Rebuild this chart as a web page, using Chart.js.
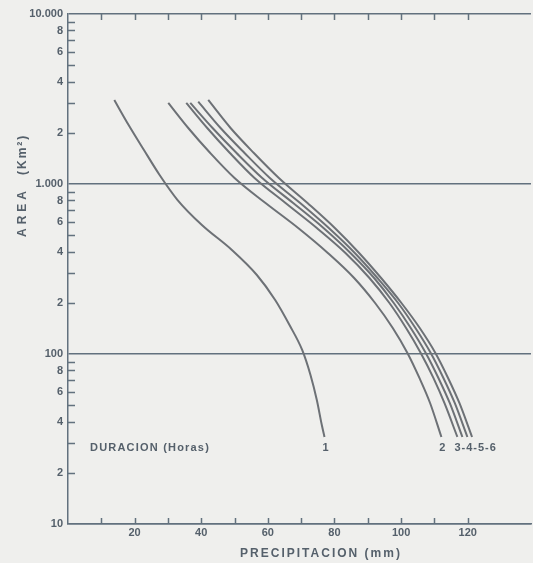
<!DOCTYPE html>
<html><head><meta charset="utf-8">
<script src="https://cdn.jsdelivr.net/npm/chart.js@4.4.0/dist/chart.umd.min.js"></script>
<style>
html,body{margin:0;padding:0;background:#efefed;overflow:hidden}
#wrap{width:533px;height:563px;position:relative}
canvas{display:block}
</style></head>
<body><div id="wrap"><canvas id="c" width="533" height="563"></canvas></div>
<script>
// ---- data ----
const durationLabels = ['1', '2', '3', '4', '5', '6'];

const precip1 = [13.9, 18.2, 22.8, 27.5, 32.9, 40.2, 49.2, 56.7, 62.2, 66.5, 70.3, 72.8, 74.7, 76.2, 77.0];
const area1   = [3120, 2224, 1585, 1130, 805, 574, 409, 291.5, 207.7, 148, 105.6, 75.2, 53.6, 38.2, 32.5];

const areaBundle = [3000, 2135, 1522, 1085, 773, 551, 393, 280, 199.5, 142.2, 101.4, 72.3, 51.5, 32.5];
const area5      = [3050, 2135, 1522, 1085, 773, 551, 393, 280, 199.5, 142.2, 101.4, 72.3, 51.5, 32.5];
const area6      = [3120, 2135, 1522, 1085, 773, 551, 393, 280, 199.5, 142.2, 101.4, 72.3, 51.5, 32.5];
const precip2 = [30.1, 36.1, 42.7, 50.0, 59.3, 69.1, 78.0, 85.9, 92.2, 97.5, 101.9, 105.5, 108.7, 112.1];
const precip3 = [35.5, 41.8, 48.6, 56.0, 65.3, 74.7, 83.3, 90.5, 96.5, 101.5, 105.9, 109.7, 113.0, 116.9];
const precip4 = [36.7, 43.4, 50.6, 58.3, 67.6, 76.7, 84.8, 91.9, 97.8, 102.9, 107.4, 111.2, 114.6, 118.4];
const precip5 = [39.1, 45.8, 53.0, 60.6, 69.7, 78.3, 86.1, 92.9, 99.1, 104.3, 108.9, 112.7, 116.1, 119.9];
const precip6 = [42.1, 48.8, 55.8, 63.3, 71.9, 80.1, 87.4, 94.0, 100.1, 105.6, 110.3, 114.1, 117.5, 121.3];

const xLabelValues = [20, 40, 60, 80, 100, 120];
const xTickMarkMax = 120;
const yDecades = [10, 100, 1000];
const yMantissas = [1, 2, 3, 4, 5, 6, 7, 8, 9];
const yLabelMantissas = [2, 4, 6, 8];
const xTitle = 'PRECIPITACION (mm)';
const yTitleA = 'AREA';
const yTitleB = '(Km²)';
const legendTitle = 'DURACION (Horas)';

// ---- styling ----
const AXIS = '#62717e';
const CURVE = '#6d7176';
const TEXT = '#55606b';
const FONT = '"Liberation Sans", Arial, sans-serif';

function pts(xs, ys) { return xs.map((v, i) => ({x: v, y: ys[i]})); }
function isPow10(v) { const l = Math.log10(v); return Math.abs(l - Math.round(l)) < 1e-9; }
function fmtThousands(v) { return String(Math.round(v)).replace(/\B(?=(\d{3})+(?!\d))/g, '.'); }

const yTickValues = [];
yDecades.forEach(d => yMantissas.forEach(m => yTickValues.push(d * m)));
yTickValues.push(10000);

const series = [
  [precip1, area1], [precip2, areaBundle], [precip3, areaBundle],
  [precip4, areaBundle], [precip5, area5], [precip6, area6]
];

const datasets = series.map((s, i) => ({
  label: durationLabels[i],
  data: pts(s[0], s[1]),
  borderColor: CURVE,
  borderWidth: 2,
  pointRadius: 0,
  fill: false,
  cubicInterpolationMode: 'monotone'
}));

const decor = {
  id: 'decor',
  afterDraw(chart) {
    const {ctx, chartArea: a, scales: {x, y}} = chart;
    ctx.save();
    ctx.strokeStyle = AXIS;
    ctx.lineWidth = 1.5;
    ctx.beginPath();
    y.ticks.forEach(t => {
      if (!isPow10(t.value)) {
        const py = Math.round(y.getPixelForValue(t.value)) + 0.5;
        ctx.moveTo(a.left, py); ctx.lineTo(a.left + 7, py);
      }
    });
    x.ticks.forEach(t => {
      if (t.value > 0 && t.value <= xTickMarkMax && t.value % 10 === 0) {
        const px = Math.round(x.getPixelForValue(t.value)) + 0.5;
        ctx.moveTo(px, a.bottom); ctx.lineTo(px, a.bottom - 6);
        ctx.moveTo(px, a.top); ctx.lineTo(px, a.top + 6);
      }
    });
    ctx.stroke();

    ctx.fillStyle = TEXT;
    ctx.textBaseline = 'middle';
    const end = i => { const d = chart.getDatasetMeta(i).data; return d[d.length - 1]; };
    const e1 = end(0), e2 = end(1), e3 = end(2);
    const rowY = e1.y + 11;
    ctx.font = 'bold 11px ' + FONT;
    ctx.textAlign = 'center';
    ctx.fillText(durationLabels[0], e1.x + 1, rowY);
    ctx.fillText(durationLabels[1], e2.x + 1, rowY);
    ctx.textAlign = 'left';
    ctx.letterSpacing = '1px';
    ctx.fillText(durationLabels.slice(2).join('-'), e3.x - 3, rowY);
    ctx.letterSpacing = '1.2px';
    ctx.fillText(legendTitle, a.left + 22, rowY);

    ctx.font = 'bold 12px ' + FONT;
    ctx.letterSpacing = '2px';
    ctx.textAlign = 'center';
    ctx.fillText(xTitle, a.left + 253, 554);

    ctx.save();
    ctx.translate(23, 237);
    ctx.rotate(-Math.PI / 2);
    ctx.textAlign = 'left';
    ctx.letterSpacing = '4px';
    ctx.fillText(yTitleA, 0, 0);
    ctx.letterSpacing = '2px';
    ctx.fillText(yTitleB, 62, 0);
    ctx.restore();
    ctx.restore();
  }
};

new Chart(document.getElementById('c'), {
  type: 'line',
  data: {datasets},
  options: {
    responsive: false,
    animation: false,
    devicePixelRatio: 1,
    layout: {padding: {top: 14, right: 0, bottom: 0, left: 0}},
    plugins: {legend: {display: false}, tooltip: {enabled: false}, title: {display: false}},
    scales: {
      x: {
        type: 'linear', min: 0, max: 139,
        grid: {display: false, drawTicks: false},
        border: {display: true, color: AXIS, width: 1.5},
        ticks: {
          stepSize: 10, autoSkip: false, maxRotation: 0, padding: 2,
          color: TEXT, font: {family: FONT, weight: 'bold', size: 11},
          callback: v => xLabelValues.includes(v) ? String(v) : ''
        },
        afterFit: s => { s.height = 39; }
      },
      y: {
        type: 'logarithmic', min: 10, max: 10000,
        afterBuildTicks: s => { s.ticks = yTickValues.map(v => ({value: v})); },
        grid: {
          display: true, drawTicks: false, lineWidth: 1.5,
          color: c => (c.tick && isPow10(c.tick.value)) ? AXIS : 'rgba(0,0,0,0)'
        },
        border: {display: true, color: AXIS, width: 1.5},
        ticks: {
          autoSkip: false, padding: 5,
          color: TEXT, font: {family: FONT, weight: 'bold', size: 11},
          callback: v => {
            if (isPow10(v)) return fmtThousands(v);
            const m = Math.round(v / Math.pow(10, Math.floor(Math.log10(v) + 1e-9)));
            return yLabelMantissas.includes(m) ? String(m) : '';
          }
        },
        afterFit: s => { s.width = 68; }
      }
    }
  },
  plugins: [decor]
});
</script>
</body></html>
